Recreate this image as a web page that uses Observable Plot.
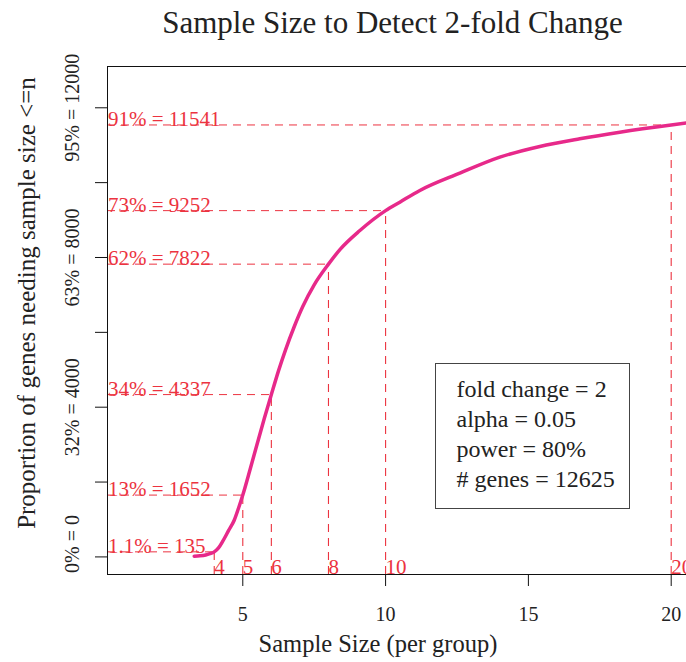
<!DOCTYPE html>
<html><head><meta charset="utf-8">
<script src="https://cdn.jsdelivr.net/npm/d3@7"></script>
<script src="https://cdn.jsdelivr.net/npm/@observablehq/plot@0.6"></script>
<style>
body{margin:0;background:#fff;}
#wrap{position:relative;width:686px;height:662px;overflow:hidden;font-family:"Liberation Serif","Times New Roman",serif;color:#222;background:#fff;}
#title{position:relative;height:40px;}
#title span{position:absolute;left:392.5px;top:7.4px;transform:translateX(-50%);font-size:31px;line-height:31px;white-space:nowrap;}
#legend{position:absolute;left:434.5px;top:362.5px;width:195px;height:146px;box-sizing:border-box;border:1px solid #444;padding:10px 0 0 21px;font-size:24px;line-height:30px;white-space:nowrap;background:#fff;}
</style></head><body>
<div id="wrap"><div id="title"><span id="titletext"></span></div><div id="chart"></div><div id="legend"></div></div>
<script>
const titleText = "Sample Size to Detect 2-fold Change";
const xTitle = "Sample Size (per group)";
const yTitle = "Proportion of genes needing sample size <=n";

const curveN   = [3.3, 3.5, 3.7, 3.85, 4.0, 4.15, 4.3, 4.5, 4.7, 4.85, 5.0, 5.25, 5.5, 5.75, 6.0, 6.25, 6.5, 6.8, 7.1, 7.5, 8.0, 8.4, 9.1, 10.0, 10.5, 11.2, 12.6, 14.0, 15.4, 16.8, 18.2, 20.0, 20.6];
const curveVal = [20, 28, 50, 85, 135, 240, 420, 700, 980, 1300, 1652, 2320, 3010, 3690, 4337, 4970, 5540, 6150, 6690, 7270, 7822, 8210, 8720, 9252, 9478, 9790, 10253, 10680, 10966, 11172, 11348, 11541, 11600];

const markN   = [4, 5, 6, 8, 10, 20];
const markVal = [135, 1652, 4337, 7822, 9252, 11541];
const markPct = ["1.1%", "13%", "34%", "62%", "73%", "91%"];

const xTicks = [5, 10, 15, 20];
const yTicks = [0, 2000, 4000, 6000, 8000, 10000, 12000];
const yLabelVals = [0, 4000, 8000, 12000];
const yLabelText = ["0% = 0", "32% = 4000", "63% = 8000", "95% = 12000"];

const legendLines = ["fold change = 2", "alpha = 0.05", "power = 80%", "# genes = 12625"];

const xDomain = [0.263, 20.536];
const yDomain = [-470, 13103];
const red = "#ec3340";
const ink = "#222";

const curve = curveN.map((n, i) => ({n, v: curveVal[i]}));
const marks = markN.map((n, i) => ({n, v: markVal[i], p: markPct[i]}));
const yLabels = yLabelVals.map((v, i) => ({v, t: yLabelText[i]}));

document.getElementById("titletext").textContent = titleText;
const leg = document.getElementById("legend");
legendLines.forEach(s => { const d = document.createElement("div"); d.textContent = s; leg.appendChild(d); });

const chart = Plot.plot({
  width: 686, height: 622,
  marginLeft: 107, marginRight: 0, marginTop: 26, marginBottom: 88,
  style: {fontFamily: "Liberation Serif, Times New Roman, serif", fontSize: "20px", color: ink, background: "white"},
  x: {domain: xDomain},
  y: {domain: yDomain},
  marks: [
    Plot.ruleY(marks, {y: "v", x1: d => xDomain[0], x2: "n", stroke: red, strokeWidth: 1, strokeDasharray: "8,6"}),
    Plot.ruleX(marks, {x: "n", y1: d => yDomain[0], y2: "v", stroke: red, strokeWidth: 1.1, strokeDasharray: "8,6"}),
    Plot.line(curve, {x: "n", y: "v", stroke: "#E7298A", strokeWidth: 3.5, curve: "monotone-x", clip: true}),
    Plot.text(marks, {y: "v", frameAnchor: "left", text: d => `${d.p} = ${d.v}`, textAnchor: "start", lineAnchor: "middle", dx: 0.5, dy: -5.7, fill: red, fontSize: 21}),
    Plot.text(marks, {x: "n", frameAnchor: "bottom", text: d => String(d.n), textAnchor: "start", lineAnchor: "middle", dy: -7.7, fill: red, fontSize: 21}),
    Plot.ruleX([xDomain[0]], {stroke: "#111"}),
    Plot.ruleY([yDomain[0], yDomain[1]], {stroke: "#111"}),
    Plot.axisY({ticks: yTicks, tickSize: 12, tickFormat: () => "", label: null, stroke: "#111"}),
    Plot.axisX({ticks: xTicks, tickSize: 12, tickFormat: () => "", label: null, stroke: "#111"}),
    Plot.text(xTicks, {x: d => d, text: d => String(d), frameAnchor: "bottom", textAnchor: "middle", lineAnchor: "middle", dy: 39.6, fontSize: 20, fill: ink}),
    Plot.text(yLabels, {filter: d => d.v !== 0, y: "v", text: "t", frameAnchor: "left", textAnchor: "middle", rotate: -90, lineAnchor: "middle", dx: -35.4, fontSize: 20, fill: ink}),
    Plot.text(yLabels, {filter: d => d.v === 0, y: "v", text: "t", frameAnchor: "left", textAnchor: "middle", rotate: -90, lineAnchor: "middle", dx: -35.4, dy: -13, fontSize: 20, fill: ink}),
    Plot.text([xTitle], {text: d => d, frameAnchor: "bottom", textAnchor: "middle", lineAnchor: "middle", dx: -19, dy: 70, fontSize: 24.5, fill: ink}),
    Plot.text([yTitle], {text: d => d, frameAnchor: "left", textAnchor: "middle", rotate: -90, lineAnchor: "middle", dx: -81, dy: -17.5, fontSize: 25, fill: ink})
  ]
});
document.getElementById("chart").appendChild(chart);
</script>
</body></html>
